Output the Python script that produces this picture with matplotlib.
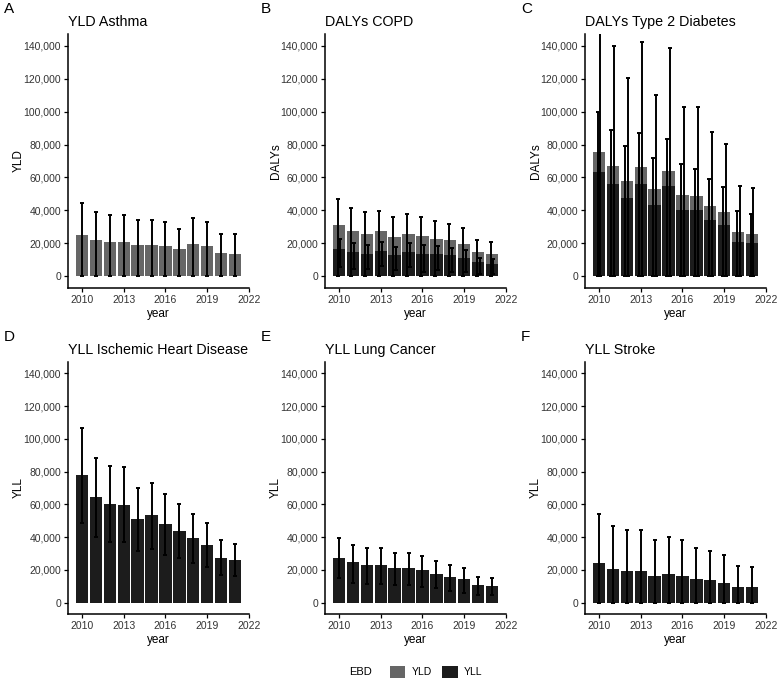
import numpy as np
import matplotlib
matplotlib.use("Agg")
import matplotlib.pyplot as plt
from matplotlib.patches import Patch
from matplotlib.ticker import FuncFormatter

plt.rcParams['font.family'] = ['Liberation Sans', 'DejaVu Sans']

years = np.arange(2010, 2022)

# A - YLD Asthma
asthma_yld = [25400, 22300, 21100, 21100, 19100, 19300, 18300, 16400, 19500, 18300, 14200, 13800]
asthma_yld_hi = [44600, 39000, 37500, 37500, 34300, 34500, 33100, 28800, 35300, 33100, 26000, 25600]
asthma_yld_lo = [0] * 12

# B - DALYs COPD
copd_yld = [31000, 27600, 26000, 27400, 23900, 26000, 24300, 22900, 21900, 19900, 14600, 13800]
copd_yll = [16800, 15000, 13800, 15400, 13000, 15000, 13800, 13600, 12800, 11400, 8500, 7700]
copd_yld_hi = [46700, 41400, 39200, 39800, 35900, 38100, 35900, 33500, 31800, 29400, 22300, 21100]
copd_yld_lo = [0] * 12
copd_yll_hi = [22900, 20000, 18800, 21000, 18000, 20400, 18800, 18300, 17300, 15800, 11200, 10500]
copd_yll_lo = [5700, 4500, 4500, 6100, 3700, 5700, 3000, 3700, 3000, 2400, 1600, 1600]

# C - DALYs Type 2 Diabetes
t2d_yld = [75500, 67200, 58000, 66400, 53000, 63700, 49600, 49000, 42900, 39000, 27100, 25900]
t2d_yll = [63300, 56200, 47500, 56200, 43500, 54600, 40000, 40000, 34400, 30900, 21000, 20000]
t2d_yld_hi = [99700, 89000, 78900, 87000, 71800, 83400, 68000, 65100, 59300, 54200, 39900, 38000]
t2d_yld_lo = [0] * 12
t2d_yll_hi = [150000, 140000, 120400, 142200, 110300, 138600, 102800, 102800, 87800, 80500, 55000, 53400]
t2d_yll_lo = [0] * 12

# D - YLL Ischemic Heart Disease
ihd_yll = [78100, 64300, 60500, 59900, 51000, 53200, 48100, 43700, 39400, 35000, 27300, 26100]
ihd_yll_hi = [106800, 88200, 83400, 82900, 70000, 73200, 66400, 60300, 54000, 48400, 38000, 35800]
ihd_yll_lo = [48400, 40100, 37000, 37000, 31200, 32800, 29300, 27100, 23900, 21600, 16600, 16200]

# E - YLL Lung Cancer
lung_yll = [27300, 24500, 23100, 23100, 21000, 21000, 20000, 17600, 15900, 14500, 10800, 10400]
lung_yll_hi = [39200, 35100, 33300, 33500, 30000, 30000, 28600, 25100, 22900, 21000, 15900, 15300]
lung_yll_lo = [14700, 11800, 11600, 11600, 11000, 11000, 9600, 8600, 7100, 6100, 4700, 4700]

# F - YLL Stroke
stroke_yll = [23900, 20800, 19200, 19000, 16500, 17300, 16300, 14500, 13500, 12200, 9400, 9200]
stroke_yll_hi = [54300, 46900, 44100, 44100, 38400, 40000, 38400, 33500, 31400, 29000, 22200, 21800]
stroke_yll_lo = [0] * 12

YLD_COL = '#666666'
YLL_COL = '#1c1c1c'

fig = plt.figure(figsize=(7.77, 6.81), dpi=100)
W, H = 777, 681

lefts = [68, 325, 585]
rows = [(34, 288), (362, 614)]


def make_ax(col, row):
    top, bot = rows[row]
    l = lefts[col]
    ax = fig.add_axes([l / W, 1 - bot / H, 181 / W, (bot - top) / H])
    ax.set_xlim(2009, 2022)
    ax.set_ylim(-7000, 147000)
    ax.set_xticks([2010, 2013, 2016, 2019, 2022])
    ax.set_yticks(np.arange(0, 140001, 20000))
    ax.yaxis.set_major_formatter(FuncFormatter(lambda v, p: f'{int(v):,}'))
    for s in ['top', 'right']:
        ax.spines[s].set_visible(False)
    for s in ['left', 'bottom']:
        ax.spines[s].set_linewidth(1.1)
    ax.tick_params(length=3, width=0.9, labelsize=7.5, colors='black',
                   labelcolor='#333333', pad=2)
    ax.set_xlabel('year', fontsize=8.5, labelpad=2)
    return ax


def err(ax, x, lo, hi):
    lo = np.array(lo)
    hi = np.array(hi)
    mid = (lo + hi) / 2
    ax.errorbar(x, mid, yerr=[mid - lo, hi - mid], fmt='none', ecolor='black',
                elinewidth=1.4, capsize=1.3, capthick=1.4, zorder=4)


panels = [
    ('A', 'YLD Asthma', 'YLD'),
    ('B', 'DALYs COPD', 'DALYs'),
    ('C', 'DALYs Type 2 Diabetes', 'DALYs'),
    ('D', 'YLL Ischemic Heart Disease', 'YLL'),
    ('E', 'YLL Lung Cancer', 'YLL'),
    ('F', 'YLL Stroke', 'YLL'),
]

axes = []
for i, (letter, title, ylab) in enumerate(panels):
    ax = make_ax(i % 3, i // 3)
    ax.set_title(title, loc='left', fontsize=10.3, pad=6)
    ax.set_ylabel(ylab, fontsize=8.5, labelpad=-1)
    top = rows[i // 3][0]
    lx = 4 if i % 3 == 0 else lefts[i % 3] - 64
    fig.text(lx / W, 1 - (top - 25) / H, letter, fontsize=11, va='center', ha='left')
    axes.append(ax)

bw = 0.88

# A
ax = axes[0]
ax.bar(years, asthma_yld, width=bw, color=YLD_COL, zorder=2)
err(ax, years, asthma_yld_lo, asthma_yld_hi)

# B
ax = axes[1]
ax.bar(years, copd_yld, width=bw, color=YLD_COL, zorder=2)
ax.bar(years, copd_yll, width=bw, color=YLL_COL, zorder=3)
err(ax, years - 0.1, copd_yld_lo, copd_yld_hi)
err(ax, years + 0.1, copd_yll_lo, copd_yll_hi)

# C
ax = axes[2]
ax.bar(years, t2d_yld, width=bw, color=YLD_COL, zorder=2)
ax.bar(years, t2d_yll, width=bw, color=YLL_COL, zorder=3)
err(ax, years - 0.1, t2d_yld_lo, t2d_yld_hi)
err(ax, years + 0.1, t2d_yll_lo, t2d_yll_hi)

# D, E, F
for ax, v, lo, hi in [(axes[3], ihd_yll, ihd_yll_lo, ihd_yll_hi),
                      (axes[4], lung_yll, lung_yll_lo, lung_yll_hi),
                      (axes[5], stroke_yll, stroke_yll_lo, stroke_yll_hi)]:
    ax.bar(years, v, width=bw, color=YLL_COL, zorder=2)
    err(ax, years, lo, hi)

# legend
fig.text(360 / W, 1 - 672 / H, 'EBD', fontsize=8, ha='center', va='center')
handles = [Patch(facecolor=YLD_COL, edgecolor='none', label='YLD'),
           Patch(facecolor=YLL_COL, edgecolor='none', label='YLL')]
fig.legend(handles=handles, loc='center', bbox_to_anchor=(436 / W, 1 - 672 / H),
           ncol=2, frameon=False, fontsize=7.5, handlelength=1.5, handleheight=1.5,
           handletextpad=0.6, columnspacing=1.0, borderpad=0)

fig.savefig('out.png', dpi=100)
